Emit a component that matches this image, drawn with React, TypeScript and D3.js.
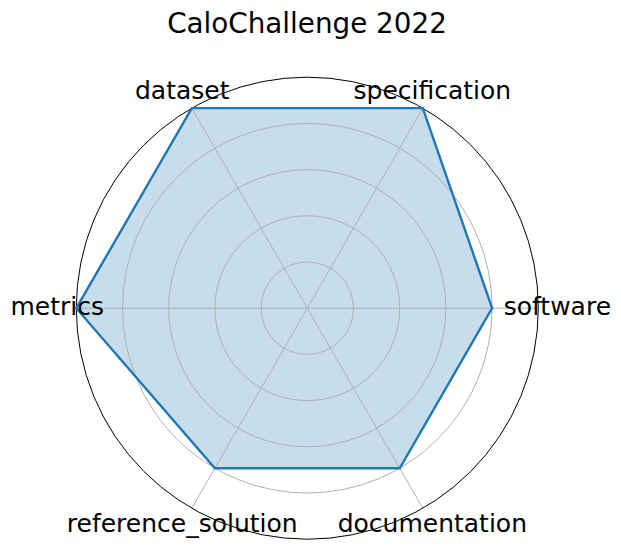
import React from "react";
import * as d3 from "d3";

const categories = ["software", "specification", "dataset", "metrics", "reference_solution", "documentation"];
const values = [0.8, 1.0, 1.0, 1.0, 0.8, 0.8];
const gridLevels = [0.2, 0.4, 0.6, 0.8];
const title = "CaloChallenge 2022";

const W = 621;
const H = 549;
const cx = 307.3;
const cy = 308.2;
const R = 231;
const FONT = "DejaVu Sans, sans-serif";

export default function App() {
  const r = d3.scaleLinear().domain([0, 1]).range([0, R]);
  const angle = d3
    .scaleLinear()
    .domain([0, categories.length])
    .range([0, 2 * Math.PI]);
  const pt = (i: number, v: number): [number, number] => {
    const a = angle(i);
    return [cx + r(v) * Math.cos(a), cy - r(v) * Math.sin(a)];
  };
  const line = d3.line<[number, number]>().curve(d3.curveLinearClosed);
  const polyPts = values.map((v, i) => pt(i, v));
  const labelR = 1.0825;

  return (
    <svg
      width={W}
      height={H}
      style={{ position: "absolute", left: 0, top: 0, background: "#fff" }}
      fontFamily={FONT}
    >
      <rect x={0} y={0} width={W} height={H} fill="#fff" />
      <text x={307} y={32.5} fontSize={27.8} textAnchor="middle" fill="#000">
        {title}
      </text>
      <path d={line(polyPts) || ""} fill="#1f77b4" fillOpacity={0.25} stroke="none" />
      {gridLevels.map((g) => (
        <circle key={g} cx={cx} cy={cy} r={r(g)} fill="none" stroke="#b0b0b0" strokeWidth={1} />
      ))}
      {categories.map((c, i) => {
        const [x, y] = pt(i, 1);
        return <line key={c} x1={cx} y1={cy} x2={x} y2={y} stroke="#b0b0b0" strokeWidth={1} />;
      })}
      <circle cx={cx} cy={cy} r={r(1)} fill="none" stroke="#000" strokeWidth={1} />
      <path d={line(polyPts) || ""} fill="none" stroke="#1f77b4" strokeWidth={2.4} strokeLinejoin="miter" />
      {categories.map((c, i) => {
        const [x, y] = pt(i, labelR);
        return (
          <text key={c} x={x} y={y + 7.2} fontSize={25} textAnchor="middle" fill="#000">
            {c}
          </text>
        );
      })}
    </svg>
  );
}
